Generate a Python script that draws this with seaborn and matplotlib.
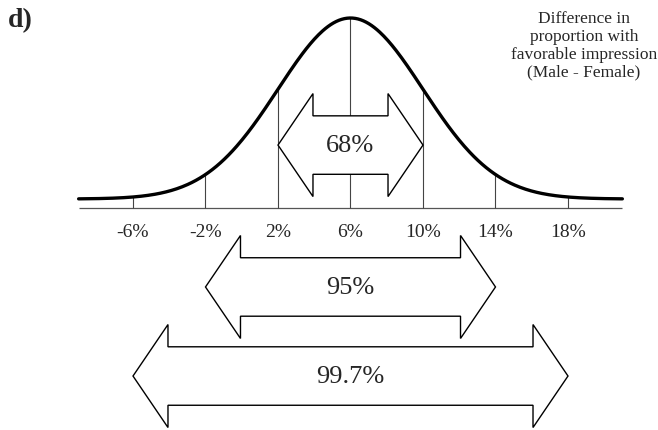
import numpy as np
import pandas as pd
import matplotlib
matplotlib.use("Agg")
import matplotlib.pyplot as plt
from matplotlib.patches import Polygon
import seaborn as sns

# distribution of the difference (Male - Female), in percent
mean = 6
sd = 4
sd_steps = [-3, -2, -1, 0, 1, 2, 3]
tick_labels = ["-6%", "-2%", "2%", "6%", "10%", "14%", "18%"]
interval_k = [1, 2, 3]
interval_labels = ["68%", "95%", "99.7%"]
curve_from, curve_to = -9, 21

sns.set_theme(style="white")
plt.rcParams["font.family"] = ["Liberation Serif", "DejaVu Serif"]

# normal curve scaled to a peak of 1
xs = np.linspace(curve_from, curve_to, 400)
curve = pd.DataFrame({"x": xs, "y": np.exp(-0.5 * ((xs - mean) / sd) ** 2)})

fig = plt.figure(figsize=(6.58, 4.31), dpi=100)
ax = fig.add_axes([0, 0, 1, 1])
# limits chosen so 1% = 18.125 px and curve height 1 = 181 px
ax.set_xlim(-13.338, 22.966)
ax.set_ylim(-1.2762, 1.105)
ax.axis("off")

sns.lineplot(data=curve, x="x", y="y", ax=ax, color="black", lw=2.4, zorder=3)

axis_y = -0.05
ax.hlines(axis_y, curve_from, curve_to, color="#555555", lw=0.9, zorder=1)
ticks = [mean + k * sd for k in sd_steps]
heights = [np.exp(-0.5 * k ** 2) for k in sd_steps]
ax.vlines(ticks, axis_y, heights, color="#444444", lw=0.8, zorder=1)
for t, lab in zip(ticks, tick_labels):
    ax.text(t, -0.177, lab, ha="center", va="center", fontsize=14)

# double headed interval arrows
head_len = 1.93
head_h = 0.569
shaft_h = 0.323
centers = [0.298, -0.486, -0.978]
for k, lab, c in zip(interval_k, interval_labels, centers):
    a, b = mean - k * sd, mean + k * sd
    pts = [(a, c), (a + head_len, c + head_h / 2), (a + head_len, c + shaft_h / 2),
           (b - head_len, c + shaft_h / 2), (b - head_len, c + head_h / 2), (b, c),
           (b - head_len, c - head_h / 2), (b - head_len, c - shaft_h / 2),
           (a + head_len, c - shaft_h / 2), (a + head_len, c - head_h / 2)]
    ax.add_patch(Polygon(pts, closed=True, facecolor="white", edgecolor="black",
                         lw=1.0, zorder=4))
    ax.text(mean, c, lab, ha="center", va="center", fontsize=19, zorder=5)

fig.text(8 / 658, 1 - 8 / 431, "d)", ha="left", va="top", fontsize=20,
         fontweight="bold")
fig.text(584 / 658, 1 - 11 / 431,
         "Difference in\nproportion with\nfavorable impression\n(Male - Female)",
         ha="center", va="top", fontsize=12.5, linespacing=1.15)

fig.savefig("out.png", dpi=100)
